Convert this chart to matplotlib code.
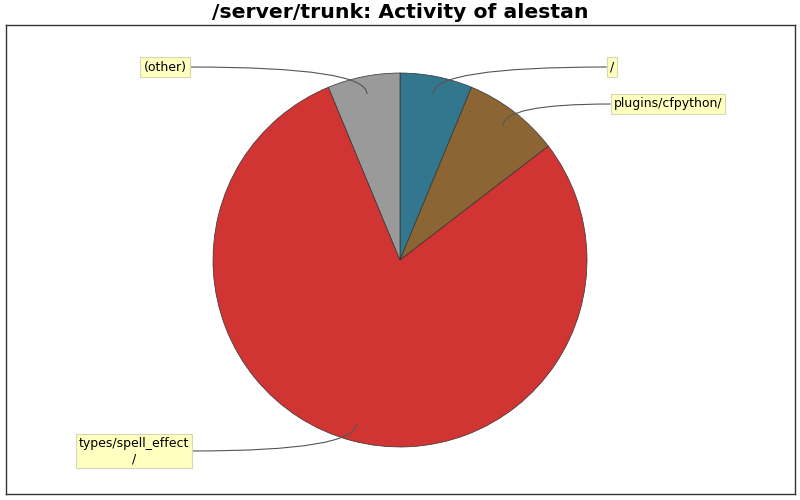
import matplotlib
matplotlib.use("Agg")
import matplotlib.pyplot as plt
import numpy as np
from matplotlib.path import Path
from matplotlib.patches import PathPatch

labels = ["/", "plugins/cfpython/", "types/spell_effect\n/", "(other)"]
values = [3, 4, 38, 3]
colors = ["#33778f", "#8c6534", "#d03533", "#9a9a9a"]
# label box positions (figure pixel coords, y from top)
label_pos = [(612, 67), (668, 104), (134, 451), (165, 67)]
label_align = ["left", "left", "right", "right"]

W, H = 800, 500
fig = plt.figure(figsize=(8, 5), dpi=100)
ax = fig.add_axes([6 / W, 6 / H, 789 / W, 469 / H])
ax.set_xticks([])
ax.set_yticks([])
for s in ax.spines.values():
    s.set_color("#333333")
    s.set_linewidth(1.0)

cx, cy, r = 400, H - 260, 187
wedges, _ = ax.pie(values, colors=colors, startangle=90, counterclock=False,
                   center=(cx, cy), radius=r, frame=True,
                   wedgeprops=dict(edgecolor="#333333", linewidth=0.5))
ax.set_xlim(6, 795)
ax.set_ylim(6, 475)
ax.set_aspect("auto")
ax.set_xticks([])
ax.set_yticks([])

total = sum(values)
cum = 0
for i, v in enumerate(values):
    mid = (cum + v / 2) / total * 2 * np.pi
    cum += v
    ax_x = cx + 0.905 * r * np.sin(mid)
    ax_y = cy + 0.905 * r * np.cos(mid)
    lx, ly = label_pos[i]
    ly = H - ly
    t = ax.text(lx, ly, labels[i], ha="center", va="center", fontsize=9,
                color="black", multialignment="center", zorder=5,
                bbox=dict(boxstyle="square,pad=0.25", facecolor="#ffffc0",
                          edgecolor="#d8d8b0", linewidth=0.8))
    fig.canvas.draw()
    bb = t.get_bbox_patch().get_window_extent()
    inv = ax.transData.inverted()
    (x0, y0), (x1, y1) = inv.transform([[bb.x0, bb.y0], [bb.x1, bb.y1]])
    ex = x0 if label_align[i] == "left" else x1
    ey = ly
    verts = [(ax_x, ax_y), (ax_x, ey), (ex, ey)]
    path = Path(verts, [Path.MOVETO, Path.CURVE3, Path.CURVE3])
    ax.add_patch(PathPatch(path, facecolor="none", edgecolor="#555555",
                           linewidth=0.8, zorder=4))

fig.text(0.5, 1 - 13 / H, "/server/trunk: Activity of alestan", ha="center",
         va="center", fontsize=14.7, fontweight="bold")

fig.savefig("out.png", dpi=100)
